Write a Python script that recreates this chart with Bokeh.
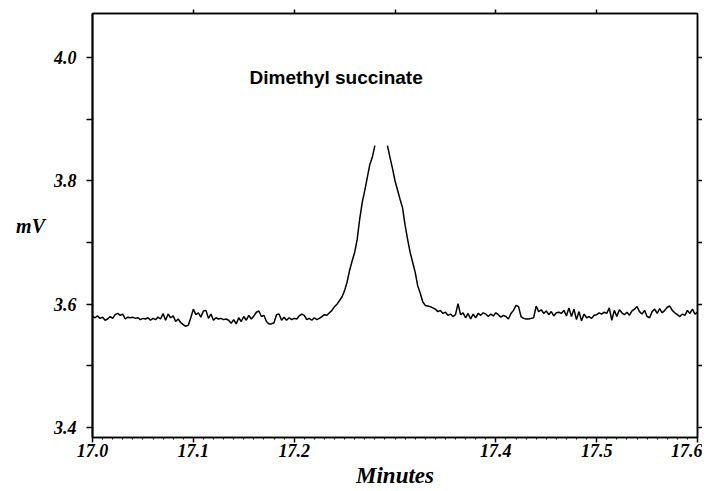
from bokeh.plotting import figure
from bokeh.models import Range1d, FixedTicker, LinearAxis, ColumnDataSource, CustomLabelingPolicy
from bokeh.core.properties import value
from bokeh.embed import file_html
from bokeh.resources import INLINE

nan = float("nan")

# Chromatogram trace, sampled every 0.0025 min starting at 17.0 min
t_start = 17.0
t_step = 0.0025

baseline_before = [
    3.580, 3.578, 3.581, 3.577, 3.579, 3.574, 3.576, 3.580, 3.577, 3.583,
    3.585, 3.582, 3.584, 3.576, 3.579, 3.578, 3.579, 3.577, 3.578, 3.575,
    3.577, 3.576, 3.578, 3.574, 3.577, 3.575, 3.579, 3.576, 3.585, 3.574,
    3.584, 3.578, 3.581, 3.572, 3.576, 3.570, 3.567, 3.564, 3.566, 3.578,
    3.592, 3.583, 3.586, 3.579, 3.589, 3.590, 3.577, 3.584, 3.574,
    3.578, 3.576, 3.577, 3.575, 3.576, 3.574, 3.569, 3.575, 3.568, 3.578,
    3.572, 3.580, 3.574, 3.582, 3.576, 3.581, 3.587, 3.589, 3.580, 3.582,
    3.572, 3.568, 3.568, 3.570, 3.583, 3.584, 3.574, 3.579, 3.574, 3.578,
    3.575, 3.577, 3.576, 3.581, 3.584, 3.582, 3.575, 3.577, 3.574, 3.578,
    3.575, 3.577, 3.580, 3.583,
]

peak = [
    3.582, 3.586, 3.590, 3.596, 3.600, 3.606, 3.612, 3.622, 3.636, 3.655,
    3.670, 3.684, 3.705, 3.738, 3.765, 3.784, 3.805, 3.826, 3.838, 3.857,
    nan, nan, nan, nan, 3.857, 3.838, 3.820, 3.800, 3.785, 3.770,
    3.756, 3.728, 3.705, 3.684, 3.668, 3.652, 3.630, 3.618, 3.604, 3.598,
    3.597, 3.596, 3.594, 3.592, 3.588,
]

baseline_after = [
    3.590, 3.585, 3.587, 3.582, 3.584, 3.580, 3.583, 3.601, 3.583, 3.586,
    3.578, 3.585, 3.576, 3.584, 3.578, 3.585, 3.582, 3.586, 3.584, 3.580,
    3.584, 3.581, 3.586, 3.583, 3.579, 3.582, 3.580, 3.576, 3.585, 3.590,
    3.598, 3.596, 3.580, 3.577, 3.576, 3.576, 3.577, 3.578, 3.597, 3.588,
    3.591, 3.585, 3.589, 3.583, 3.588, 3.581, 3.586,
    3.587, 3.585, 3.590, 3.581, 3.594, 3.580, 3.592, 3.575, 3.588, 3.573,
    3.584, 3.578, 3.580, 3.577, 3.582, 3.583, 3.586, 3.584, 3.587, 3.585,
    3.594, 3.574, 3.590, 3.580, 3.591, 3.586, 3.583, 3.587, 3.582, 3.589,
    3.592, 3.596, 3.588, 3.584, 3.590, 3.580, 3.578, 3.588, 3.592, 3.585,
    3.593, 3.586, 3.590, 3.595, 3.597, 3.590, 3.586, 3.583, 3.580, 3.584,
    3.582, 3.590, 3.585, 3.592, 3.584, 3.587,
]

signal = baseline_before + peak + baseline_after
minutes = [t_start + t_step * i for i in range(len(signal))]

x_ticks = [17.0, 17.1, 17.2, 17.4, 17.5, 17.6]
x_tick_labels = {17.0: "17.0", 17.1: "17.1", 17.2: "17.2",
                 17.4: "17.4", 17.5: "17.5", 17.6: "17.6"}
x_minor = [round(17.0 + 0.01 * k, 2) for k in range(61)]
top_ticks = [17.1, 17.2, 17.3, 17.4, 17.5]
y_ticks = [3.4, 3.6, 3.8, 4.0]
y_minor = [3.5, 3.7, 3.9]
y_tick_labels = {3.4: "3.4", 3.6: "3.6", 3.8: "3.8", 4.0: "4.0"}

peak_name = "Dimethyl succinate"
peak_label_x = [17.2416]
peak_label_y = [3.968]

serif = "Liberation Serif"

no_labels = CustomLabelingPolicy(code="""
for (const i of indices) { indices.unset(i) }
return indices
""")

p = figure(width=702, height=490,
           x_range=Range1d(17.0, 17.6), y_range=Range1d(3.384, 4.071),
           output_backend="svg", toolbar_location=None,
           min_border_left=92, min_border_right=5, min_border_top=13,
           min_border_bottom=50)
p.xgrid.visible = False
p.ygrid.visible = False
p.outline_line_color = "black"
p.outline_line_width = 1.5
p.background_fill_color = "white"
p.border_fill_color = "white"

src = ColumnDataSource(dict(x=minutes, y=signal))
p.line("x", "y", source=src, line_color="black", line_width=1.5)

p.text(x=peak_label_x, y=peak_label_y, text=[peak_name],
       text_font=value("Liberation Sans"), text_font_style="bold",
       text_font_size="19px", text_align="center", text_baseline="middle",
       text_color="black")

# bottom axis
xa = p.xaxis[0]
xa.ticker = FixedTicker(ticks=x_ticks, minor_ticks=x_minor)
xa.major_label_overrides = x_tick_labels
xa.axis_label = "Minutes"
xa.axis_label_text_font = serif
xa.axis_label_text_font_style = "bold italic"
xa.axis_label_text_font_size = "23px"
xa.axis_label_text_color = "black"
xa.axis_label_standoff = 3
xa.major_label_text_font = serif
xa.major_label_text_font_style = "bold italic"
xa.major_label_text_font_size = "18px"
xa.major_label_text_color = "black"
xa.major_label_standoff = 1
xa.major_tick_in = 0
xa.major_tick_out = 5
xa.minor_tick_in = 0
xa.minor_tick_out = 2
xa.axis_line_width = 1.5
xa.major_tick_line_width = 1.5

# left axis
ya = p.yaxis[0]
ya.ticker = FixedTicker(ticks=y_ticks, minor_ticks=y_minor)
ya.major_label_overrides = y_tick_labels
ya.axis_label = "mV"
ya.axis_label_orientation = "horizontal"
ya.axis_label_text_font = serif
ya.axis_label_text_font_style = "bold italic"
ya.axis_label_text_font_size = "20px"
ya.axis_label_text_color = "black"
ya.axis_label_standoff = 6
ya.major_label_text_font = serif
ya.major_label_text_font_style = "bold italic"
ya.major_label_text_font_size = "18px"
ya.major_label_text_color = "black"
ya.major_label_standoff = 10
ya.major_tick_in = 0
ya.major_tick_out = 6
ya.minor_tick_in = 0
ya.minor_tick_out = 6
ya.axis_line_width = 2
ya.major_tick_line_width = 1.5
ya.minor_tick_line_width = 1.5

# right axis (ticks only)
ra = LinearAxis(ticker=FixedTicker(ticks=y_ticks, minor_ticks=y_minor),
                major_label_policy=no_labels, major_label_standoff=0,
                major_label_text_font_size="0px",
                major_tick_in=0, major_tick_out=5, minor_tick_in=0, minor_tick_out=5,
                axis_line_width=1.5, major_tick_line_width=1.5, minor_tick_line_width=1.5)
p.add_layout(ra, "right")

# top axis (ticks only)
ta = LinearAxis(ticker=FixedTicker(ticks=top_ticks, minor_ticks=[]),
                major_label_policy=no_labels, major_label_standoff=0,
                major_label_text_font_size="0px",
                major_tick_in=0, major_tick_out=4,
                axis_line_width=1.5, major_tick_line_width=1.5)
p.add_layout(ta, "above")

open("out.html", "w").write(file_html(p, INLINE))
